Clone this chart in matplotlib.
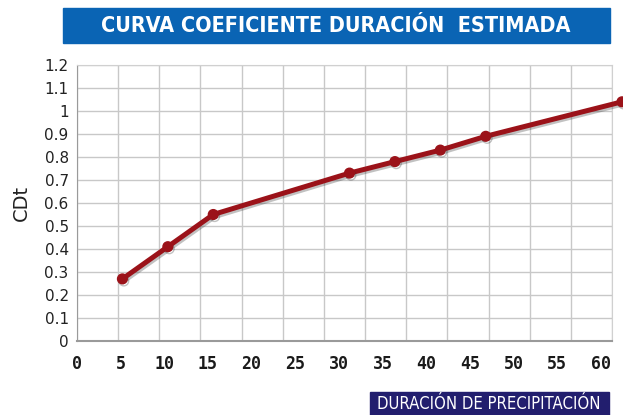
import matplotlib.pyplot as plt
import matplotlib.patheffects as pe
from matplotlib.patches import Rectangle
from matplotlib.ticker import LinearLocator
import numpy as np

# duracion (min) vs coeficiente CDt
duracion = [5, 10, 15, 30, 35, 40, 45, 60]
cdt = [0.27, 0.41, 0.55, 0.73, 0.78, 0.83, 0.89, 1.04]

x_labels = list(range(0, 65, 5))
y_ticks = np.round(np.arange(0, 1.21, 0.1), 1)
y_labels = ['0' if v == 0 else ('1' if v == 1 else f'{v:g}') for v in y_ticks]

titulo = 'CURVA COEFICIENTE DURACIÓN  ESTIMADA'
eje_x = 'DURACIÓN DE PRECIPITACIÓN'

fig = plt.figure(figsize=(6.23, 4.15), dpi=100)
ax = fig.add_axes([77/623, 74/415, 535/623, 276/415])

# grid: 13 even columns, rows every 0.1
ax.set_xlim(0, 58.9)
ax.set_ylim(0, 1.2)
ax.xaxis.set_major_locator(LinearLocator(14))
ax.set_yticks(y_ticks)
ax.set_yticklabels(y_labels, fontsize=11, color='#222222')
ax.tick_params(axis='x', length=0, labelbottom=False)
ax.tick_params(axis='y', length=0, pad=6)
ax.grid(True, color='#c8c8c8', linewidth=1.0)
ax.set_axisbelow(True)
for s in ax.spines.values():
    s.set_color('#d0d0d0')
ax.spines['bottom'].set_color('#9a9a9a')
ax.spines['bottom'].set_linewidth(1.5)
ax.spines['left'].set_color('#9a9a9a')

ax.plot(duracion, cdt, color='#9b1219', linewidth=3.6, marker='o', markersize=7,
        clip_on=False, zorder=5,
        path_effects=[pe.SimpleLineShadow(offset=(1, -1.5), shadow_color='#333333', alpha=0.3),
                      pe.Normal()])

ax.set_ylabel('CDt', fontsize=14, color='#222222', labelpad=10)

# x tick labels on their own scale
ax2 = ax.twiny()
ax2.set_xlim(0, 61.3)
ax2.xaxis.set_ticks_position('bottom')
ax2.set_xticks(x_labels)
ax2.set_xticklabels([str(v) for v in x_labels], fontsize=12, fontweight='bold',
                    family='DejaVu Sans Mono', color='#1a1a1a')
ax2.tick_params(axis='x', length=0, pad=10)
for s in ax2.spines.values():
    s.set_visible(False)


def fit_text(t, max_px):
    # shrink a text until it fits the banner width
    r = fig.canvas.get_renderer()
    while t.get_window_extent(r).width > max_px and t.get_fontsize() > 6:
        t.set_fontsize(t.get_fontsize() - 0.5)


# title banner
fig.patches.append(Rectangle((63/623, 1 - 43/415), 547/623, 35/415,
                             transform=fig.transFigure, color='#0a64b4', zorder=0))
t1 = fig.text(336/623, 1 - 26/415, titulo, ha='center', va='center',
              color='white', fontsize=18, fontweight='bold', fontstretch='condensed',
              family='DejaVu Sans')
fit_text(t1, 470)

# x label banner
fig.patches.append(Rectangle((370/623, 0), 239/623, 23/415,
                             transform=fig.transFigure, color='#221e6e', zorder=0))
t2 = fig.text(489/623, 11/415, eje_x, ha='center', va='center',
              color='white', fontsize=13, fontstretch='condensed', family='DejaVu Sans')
fit_text(t2, 226)

fig.savefig('out.png', dpi=100)
